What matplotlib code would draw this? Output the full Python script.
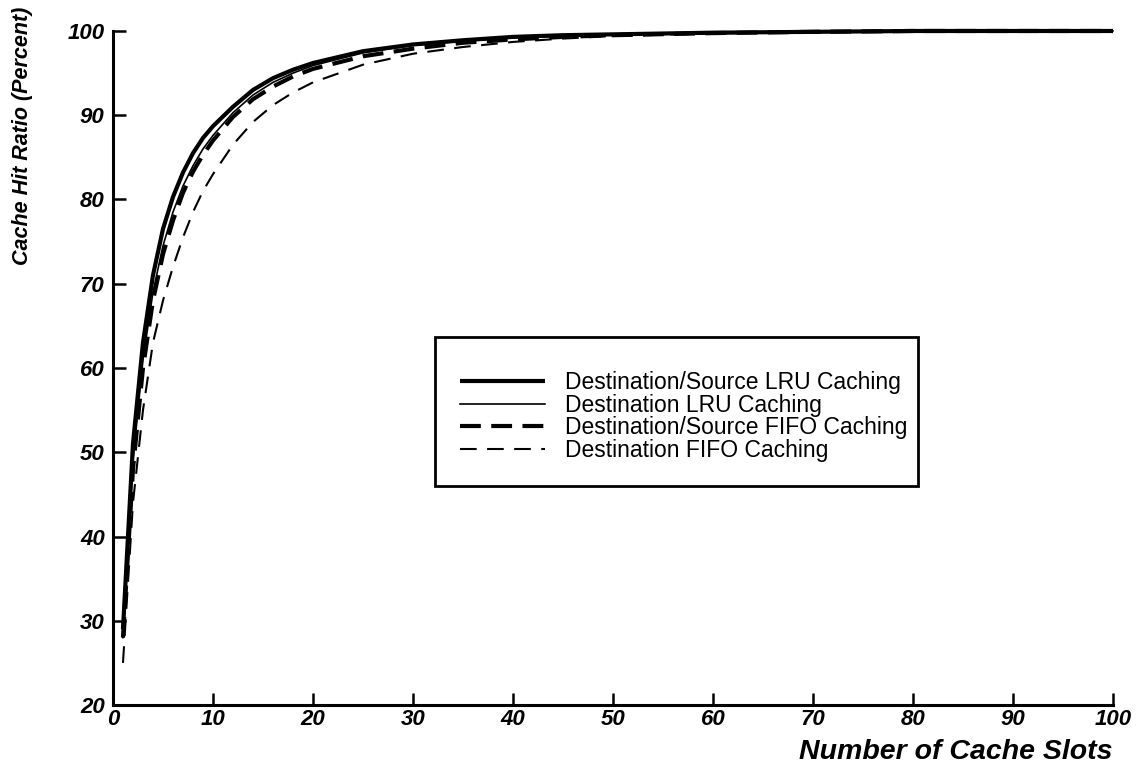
import numpy as np
import matplotlib
matplotlib.use("Agg")
import matplotlib.pyplot as plt
from matplotlib.patches import Rectangle

plt.rcParams['font.family'] = ['Liberation Sans', 'DejaVu Sans']

slots = [1, 2, 3, 4, 5, 6, 7, 8, 9, 10, 12, 14, 16, 18, 20, 25, 30, 35, 40, 45, 50, 60, 70, 80, 90, 100]
ds_lru = [29, 51, 63, 71, 76.5, 80.3, 83.2, 85.5, 87.3, 88.7, 91.0, 93.0, 94.4, 95.4, 96.2,
          97.6, 98.4, 98.9, 99.3, 99.5, 99.6, 99.8, 99.9, 100, 100, 100]
d_lru = [28, 49, 61, 69, 74.5, 78.5, 81.6, 84.0, 86.0, 87.6, 90.3, 92.4, 93.9, 95.0, 95.9,
         97.4, 98.3, 98.8, 99.2, 99.4, 99.6, 99.8, 99.9, 100, 100, 100]
ds_fifo = [28, 48, 60, 68, 73.5, 77.5, 80.8, 83.3, 85.3, 87, 89.8, 91.9, 93.4, 94.6, 95.5,
           97.0, 97.9, 98.6, 99.0, 99.3, 99.5, 99.75, 99.9, 100, 100, 100]
d_fifo = [25, 44, 55, 63, 68, 72, 75.5, 78.5, 81, 83, 86.5, 89.2, 91.2, 92.7, 93.9,
          96.0, 97.3, 98.1, 98.7, 99.1, 99.4, 99.7, 99.85, 99.95, 100, 100]

labels = ["Destination/Source LRU Caching", "Destination LRU Caching",
          "Destination/Source FIFO Caching", "Destination FIFO Caching"]
xticks = list(range(0, 101, 10))
yticks = list(range(20, 101, 10))

fig = plt.figure(figsize=(11.4, 7.67), dpi=100)
ax = fig.add_axes([0.0991, 0.0808, 0.8772, 0.8788])

h1, = ax.plot(slots, ds_lru, color='black', lw=3.0, solid_capstyle='butt', clip_on=False)
h2, = ax.plot(slots, d_lru, color='black', lw=1.2, clip_on=False)
h3, = ax.plot(slots, ds_fifo, color='black', lw=3.0, dashes=(5, 2.5), clip_on=False)
h4, = ax.plot(slots, d_fifo, color='black', lw=1.5, dashes=(8, 5), clip_on=False)

ax.set_xlim(0, 100)
ax.set_ylim(20, 100)
ax.spines['top'].set_visible(False)
ax.spines['right'].set_visible(False)
ax.spines['left'].set_linewidth(2.2)
ax.spines['bottom'].set_linewidth(2.2)
ax.set_xticks(xticks)
ax.set_yticks(yticks)
ax.tick_params(direction='in', length=9, width=1.8)
ax.tick_params(axis='x', pad=3)
ax.tick_params(axis='y', pad=6)
for lab in ax.get_xticklabels() + ax.get_yticklabels():
    lab.set_fontsize(16)
    lab.set_fontweight('bold')
    lab.set_fontstyle('italic')

fig.text(0.02, 0.823, "Cache Hit Ratio (Percent)", rotation=90, ha='center', va='center',
         fontsize=15.5, fontweight='bold', fontstyle='italic')
fig.text(0.976, 0.02, "Number of Cache Slots", ha='right', va='center',
         fontsize=20.5, fontweight='bold', fontstyle='italic')

# legend box
ax.add_patch(Rectangle((32.2, 46.0), 48.3, 17.7, fill=False, lw=2.0, edgecolor='black',
                       transform=ax.transData, zorder=3))
leg = ax.legend([h1, h2, h3, h4], labels, loc='center left', bbox_to_anchor=(0.347, 0.428),
                frameon=False, fontsize=16.5, handlelength=3.7, handletextpad=0.87,
                labelspacing=-0.02, borderpad=0, borderaxespad=0)

fig.savefig("out.png", dpi=100)
